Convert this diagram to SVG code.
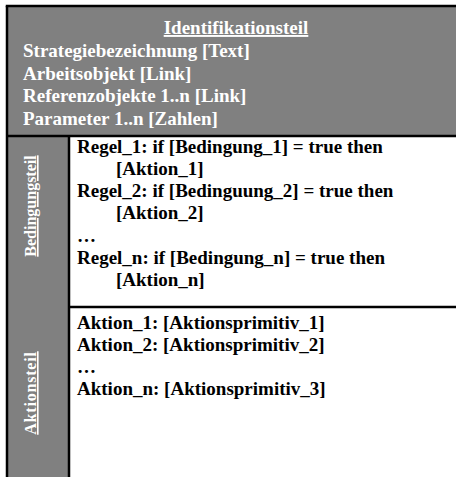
<svg xmlns="http://www.w3.org/2000/svg" width="456" height="477" viewBox="0 0 456 477">
  <style>
    .t { font-family: "Liberation Serif", "Times New Roman", serif; font-weight: bold; font-size: 19px; fill: #000; }
    .w { fill: #fff; }
    .u { text-decoration: underline; }
    .v { font-family: "Liberation Serif", "Times New Roman", serif; font-weight: bold; font-size: 16px; fill: #fff; text-decoration: underline; }
    .rule { stroke: #000; stroke-width: 2.5; fill: none; }
  </style>

  <rect width="456" height="477" fill="#fff"/>

  <!-- Identification part -->
  <g id="identifikationsteil">
    <rect x="7" y="6" width="449" height="130" fill="#808080"/>
    <text class="t w u" x="236" y="34" text-anchor="middle">Identifikationsteil</text>
    <text class="t w" x="23" y="57">Strategiebezeichnung [Text]</text>
    <text class="t w" x="23" y="79.5">Arbeitsobjekt [Link]</text>
    <text class="t w" x="23" y="102">Referenzobjekte 1..n [Link]</text>
    <text class="t w" x="23" y="124.5">Parameter 1..n [Zahlen]</text>
  </g>

  <!-- Condition part -->
  <g id="bedingungsteil">
    <rect x="7" y="136" width="62" height="171" fill="#808080"/>
    <text class="v" transform="translate(36 206) rotate(-90)" text-anchor="middle">Bedingungsteil</text>
    <text class="t" x="77" y="152.5">Regel_1: if [Bedingung_1] = true then</text>
    <text class="t" x="116" y="174.8">[Aktion_1]</text>
    <text class="t" x="77" y="197.1">Regel_2: if [Bedinguung_2] = true then</text>
    <text class="t" x="116" y="219.4">[Aktion_2]</text>
    <text class="t" x="77" y="241.7">…</text>
    <text class="t" x="77" y="264">Regel_n: if [Bedingung_n] = true then</text>
    <text class="t" x="116" y="286.3">[Aktion_n]</text>
  </g>

  <!-- Action part -->
  <g id="aktionsteil">
    <rect x="7" y="307" width="62" height="170" fill="#808080"/>
    <text class="v" transform="translate(36 393) rotate(-90)" text-anchor="middle" letter-spacing="0.8">Aktionsteil</text>
    <text class="t" x="77" y="329">Aktion_1: [Aktionsprimitiv_1]</text>
    <text class="t" x="77" y="351">Aktion_2: [Aktionsprimitiv_2]</text>
    <text class="t" x="77" y="373">…</text>
    <text class="t" x="77" y="395">Aktion_n: [Aktionsprimitiv_3]</text>
  </g>

  <!-- Frame and dividing rules -->
  <g id="connectors">
    <line class="rule" x1="5.75" y1="6" x2="456" y2="6"/>
    <line class="rule" x1="7" y1="6" x2="7" y2="477"/>
    <line class="rule" x1="7" y1="136" x2="456" y2="136"/>
    <line class="rule" x1="69" y1="136" x2="69" y2="477"/>
    <line class="rule" x1="69" y1="307" x2="456" y2="307"/>
  </g>
</svg>
